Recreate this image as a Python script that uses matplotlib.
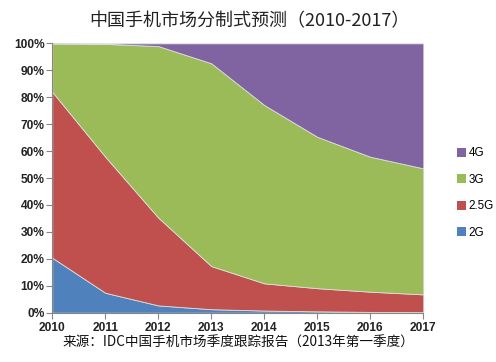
import numpy as np
import matplotlib
matplotlib.use('Agg')
import matplotlib.pyplot as plt
from matplotlib.patches import Patch

plt.rcParams['font.family'] = ['Noto Sans CJK SC', 'DejaVu Sans']

# Dane (udział w %)
lata = [2010, 2011, 2012, 2013, 2014, 2015, 2016, 2017]
udzial_2g = [20.4, 7.4, 2.7, 1.3, 0.8, 0.5, 0.3, 0.2]
udzial_25g = [61.6, 50.5, 32.6, 16.0, 10.1, 8.6, 7.5, 6.6]
udzial_3g = [18.0, 41.9, 63.7, 75.3, 66.2, 56.2, 50.1, 46.8]
udzial_4g = [0.0, 0.2, 1.0, 7.4, 22.9, 34.7, 42.1, 46.4]
etykiety = ['2G', '2.5G', '3G', '4G']
kolory = ['#4F81BD', '#C0504D', '#9BBB59', '#8064A2']

fig = plt.figure(figsize=(4.96, 3.62), dpi=100)
ax = fig.add_axes([0.1054, 0.1362, 0.748, 0.744])

ax.stackplot(lata, udzial_2g, udzial_25g, udzial_3g, udzial_4g,
             colors=kolory, edgecolor='#dddddd', linewidth=0.6)

ax.set_xlim(2010, 2017)
ax.set_ylim(0, 100)
ax.set_yticks(np.arange(0, 101, 10))
ax.set_yticklabels([f'{v}%' for v in range(0, 101, 10)])
ax.set_xticks(lata)

for s in ['top', 'right']:
    ax.spines[s].set_visible(False)
for s in ['left', 'bottom']:
    ax.spines[s].set_color('#868686')
    ax.spines[s].set_linewidth(0.8)
ax.tick_params(axis='both', colors='#868686', length=4, width=0.8, labelcolor='#222222')
ax.tick_params(axis='y', pad=1.5)
ax.tick_params(axis='x', pad=3)
for lab in ax.get_xticklabels() + ax.get_yticklabels():
    lab.set_fontfamily('Liberation Sans')
    lab.set_fontweight('bold')
    lab.set_fontsize(8.6)

fig.text(0.502, 0.94, '中国手机市场分制式预测（2010-2017）', ha='center', va='center',
         fontsize=13, color='#222222')
fig.text(0.48, 0.052, '来源：IDC中国手机市场季度跟踪报告（2013年第一季度）', ha='center', va='center',
         fontsize=9.8, color='#111111')

uchwyty = [Patch(facecolor=k, edgecolor='none') for k in kolory]
leg = ax.legend(uchwyty[::-1], etykiety[::-1], loc='center left', bbox_to_anchor=(1.09, 0.444),
                frameon=False, fontsize=8.4, handlelength=0.8, handleheight=0.8,
                handletextpad=0.2, labelspacing=1.25, borderpad=0, borderaxespad=0)
for t in leg.get_texts():
    t.set_fontfamily('Liberation Sans')

fig.savefig('out.png', dpi=100)
